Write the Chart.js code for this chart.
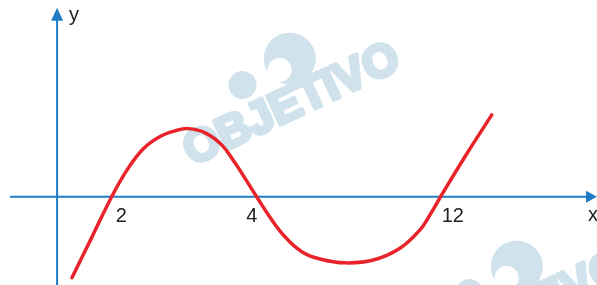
<!DOCTYPE html>
<html>
<head>
<meta charset="utf-8">
<script src="https://cdn.jsdelivr.net/npm/chart.js@4"></script>
<style>
  html, body { margin: 0; padding: 0; background: #fff; }
  #wrap { width: 597px; height: 285px; position: relative; }
</style>
</head>
<body>
<div id="wrap"><canvas id="graph"></canvas></div>
<script>
// Curve (x, y in graph units, origin at the axes crossing)
const curveX = [0.53, 1.24, 1.95, 2.49, 3.08, 3.68, 4.28, 4.69, 5.29, 5.88, 6.36, 6.75, 7.13, 7.55, 8.14, 8.74, 9.39, 10.29, 11.30, 12.25, 12.96, 13.32, 13.70, 14.61, 15.53];
const curveY = [-2.89, -1.45, 0, 0.94, 1.71, 2.15, 2.37, 2.43, 2.28, 1.85, 1.20, 0.60, 0, -0.65, -1.43, -1.96, -2.22, -2.36, -2.26, -1.84, -1.19, -0.65, 0, 1.49, 2.92];

// Tick labels under the x axis and where they sit
const tickLabels = ['2', '4', '12'];
const tickPos = [2.29, 6.96, 14.14];

// Visible window
const xMin = -2.04, xMax = 19.29;
const yMin = -3.15, yMax = 7.02;
const xAxisFrom = -1.68;
const yAxisTo = 6.74;

const blue = '#1f7cc4';
const wmColor = '#d0e2ec';

function drawWatermark(ctx, x, y) {
    ctx.save();
    ctx.translate(x, y);
    ctx.rotate(-25 * Math.PI / 180);
    ctx.fillStyle = wmColor;
    // logo
    ctx.beginPath();
    ctx.arc(134, -56, 26, 0, Math.PI * 2);
    ctx.fill();
    ctx.fillStyle = '#fff';
    ctx.beginPath();
    ctx.arc(120, -50, 12, 0, Math.PI * 2);
    ctx.fill();
    ctx.fillStyle = wmColor;
    ctx.beginPath();
    ctx.arc(80, -52, 14, 0, Math.PI * 2);
    ctx.fill();
    ctx.font = 'bold 46px "Liberation Sans", Arial, sans-serif';
    ctx.textBaseline = 'alphabetic';
    ctx.strokeStyle = wmColor;
    ctx.lineWidth = 4;
    ctx.lineJoin = 'round';
    ctx.strokeText('OBJETIVO', 0, 0);
    ctx.fillText('OBJETIVO', 0, 0);
    ctx.restore();
}

const watermarkPlugin = {
    id: 'watermark',
    beforeDatasetsDraw(chart) {
        const ctx = chart.ctx;
        drawWatermark(ctx, 192, 166);
        drawWatermark(ctx, 419, 374);
    }
};

const axesPlugin = {
    id: 'axes',
    beforeDatasetsDraw(chart) {
        const ctx = chart.ctx;
        const xs = chart.scales.x;
        const ys = chart.scales.y;
        const x0 = xs.getPixelForValue(0);
        const y0 = ys.getPixelForValue(0);
        const left = xs.getPixelForValue(xAxisFrom);
        const right = xs.getPixelForValue(xMax);
        const top = ys.getPixelForValue(yAxisTo);
        const bottom = ys.getPixelForValue(yMin);

        ctx.save();
        ctx.strokeStyle = blue;
        ctx.fillStyle = blue;
        ctx.lineWidth = 2;

        // x axis
        ctx.beginPath();
        ctx.moveTo(left, y0);
        ctx.lineTo(right - 8, y0);
        ctx.stroke();
        ctx.beginPath();
        ctx.moveTo(right, y0);
        ctx.lineTo(right - 11, y0 - 6);
        ctx.lineTo(right - 11, y0 + 6);
        ctx.closePath();
        ctx.fill();

        // y axis
        ctx.beginPath();
        ctx.moveTo(x0, bottom);
        ctx.lineTo(x0, top + 8);
        ctx.stroke();
        ctx.beginPath();
        ctx.moveTo(x0, top);
        ctx.lineTo(x0 - 6, top + 13);
        ctx.lineTo(x0 + 6, top + 13);
        ctx.closePath();
        ctx.fill();

        // labels
        ctx.fillStyle = '#222';
        ctx.font = '20px "Liberation Sans", Arial, sans-serif';
        ctx.textAlign = 'center';
        ctx.textBaseline = 'middle';
        tickLabels.forEach((t, i) => {
            ctx.fillText(t, xs.getPixelForValue(tickPos[i]), y0 + 20);
        });
        ctx.fillText('y', x0 + 17, top + 8);
        ctx.fillText('x', right - 4, y0 + 19);
        ctx.restore();
    }
};

const chart = new Chart(document.getElementById('graph'), {
    type: 'scatter',
    data: {
        datasets: [{
            data: curveX.map((x, i) => ({ x: x, y: curveY[i] })),
            showLine: true,
            borderColor: '#e8232a',
            borderWidth: 3.5,
            pointRadius: 0,
            tension: 0.4,
            borderCapStyle: 'round',
            borderJoinStyle: 'round'
        }]
    },
    options: {
        responsive: true,
        maintainAspectRatio: false,
        animation: false,
        layout: { padding: 0 },
        plugins: {
            legend: { display: false },
            tooltip: { enabled: false }
        },
        scales: {
            x: { type: 'linear', display: false, min: xMin, max: xMax },
            y: { type: 'linear', display: false, min: yMin, max: yMax }
        }
    },
    plugins: [watermarkPlugin, axesPlugin]
});
</script>
</body>
</html>
